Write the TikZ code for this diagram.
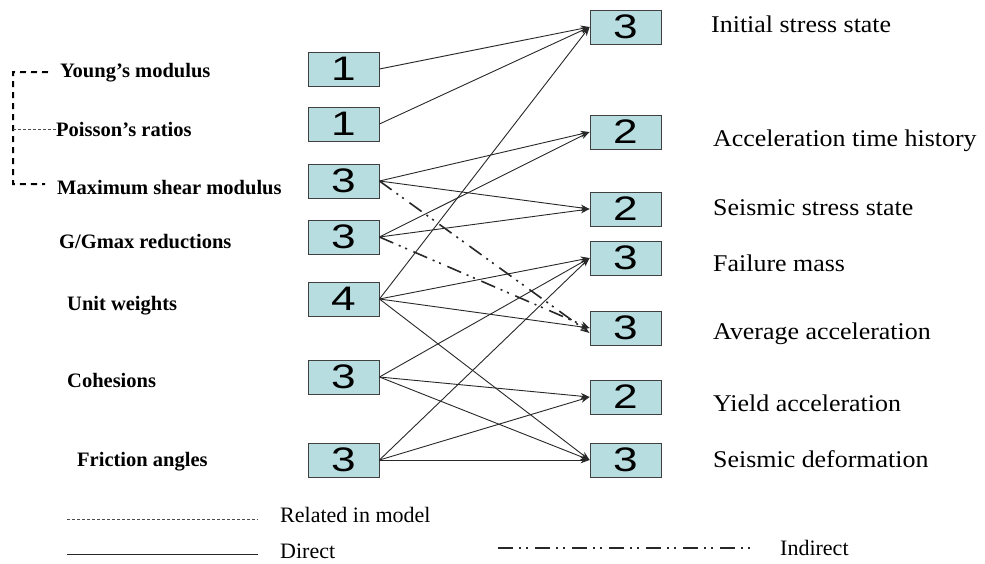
\documentclass[tikz,border=0pt]{standalone}
\usepackage{fontspec}
\usepackage{graphicx}
\setmainfont{Liberation Serif}
\setsansfont{Liberation Sans}
\usetikzlibrary{arrows.meta}
\definecolor{boxc}{RGB}{183,221,224}
\definecolor{linec}{RGB}{40,40,40}
\tikzset{
  numbox/.style={draw=black!75, line width=0.9pt, fill=boxc, minimum width=71pt, minimum height=34pt, inner sep=0pt,
    font=\sffamily\fontsize{34}{34}\selectfont},
  leftlab/.style={anchor=base west, inner sep=0pt, font=\bfseries\fontsize{20.5}{22}\selectfont},
  rightlab/.style={anchor=base west, inner sep=0pt, font=\fontsize{24}{26}\selectfont},
  leglab/.style={anchor=base west, inner sep=0pt, font=\fontsize{22}{24}\selectfont},
  direct/.style={draw=linec, line width=0.9pt, -{Stealth[length=9pt,width=6.5pt]}},
  indirect/.style={draw=linec, line width=1.6pt, dash pattern=on 15pt off 6pt on 2pt off 5pt on 2pt off 7pt, -{Stealth[length=9pt,width=6.5pt]}},
  brk/.style={draw=black, line width=2pt, dash pattern=on 6pt off 5pt},
  relline/.style={draw=black!70, line width=0.7pt, dash pattern=on 3pt off 2pt},
}
\newcommand{\dg}[1]{\scalebox{1.3}[1]{#1}}
\newcommand{\rl}[1]{\scalebox{1.08}[1]{#1}}
\begin{document}
\begin{tikzpicture}[x=1pt,y=-1pt]
\useasboundingbox[fill=white] (0,0) rectangle (985,563);

% left boxes
\node[numbox] (L1) at (343.5,69) {\dg{1}};
\node[numbox] (L2) at (343.5,124) {\dg{1}};
\node[numbox] (L3) at (343.5,181) {\dg{3}};
\node[numbox] (L4) at (343.5,237) {\dg{3}};
\node[numbox] (L5) at (343.5,299) {\dg{4}};
\node[numbox] (L6) at (343.5,377) {\dg{3}};
\node[numbox] (L7) at (343.5,460) {\dg{3}};

% right boxes
\node[numbox] (R1) at (625.5,27) {\dg{3}};
\node[numbox] (R2) at (625.5,132) {\dg{2}};
\node[numbox] (R3) at (625.5,209) {\dg{2}};
\node[numbox] (R4) at (625.5,258) {\dg{3}};
\node[numbox] (R5) at (625.5,328) {\dg{3}};
\node[numbox] (R6) at (625.5,397) {\dg{2}};
\node[numbox] (R7) at (625.5,460) {\dg{3}};

% left labels
\node[leftlab] (young) at (60,77) {Young’s modulus};
\node[leftlab] (poisson) at (56,136) {Poisson’s ratios};
\node[leftlab] (maxshear) at (57,194) {Maximum shear modulus};
\node[leftlab] (ggmax) at (59,248) {G/Gmax reductions};
\node[leftlab] (unitw) at (67,310) {Unit weights};
\node[leftlab] (coh) at (67,387) {Cohesions};
\node[leftlab] (fric) at (77,466) {Friction angles};

% right labels
\node[rightlab] (t1) at (711,32) {\rl{Initial stress state}};
\node[rightlab] (t2) at (713,146) {\rl{Acceleration time history}};
\node[rightlab] (t3) at (713,215) {\rl{Seismic stress state}};
\node[rightlab] (t4) at (713,271) {\rl{Failure mass}};
\node[rightlab] (t5) at (713,339) {\rl{Average acceleration}};
\node[rightlab] (t6) at (713,411) {\rl{Yield acceleration}};
\node[rightlab] (t7) at (713,467) {\rl{Seismic deformation}};

% bracket (related in model)
\coordinate (bkT) at (13,72);
\coordinate (bkB) at (13,184);
\coordinate (bkM) at (13,129);
\draw[brk] ([xshift=-12pt]young.west) -- (bkT) -- (bkB) -- ([xshift=-12pt]maxshear.west |- bkB);
\draw[relline] (bkM) -- (poisson.west |- bkM);

% direct connectors
\draw[direct] (L1.east) -- (R1.west);
\draw[direct] (L2.east) -- (R1.west);
\draw[direct] (L3.east) -- (R2.west);
\draw[direct] (L3.east) -- (R3.west);
\draw[direct] (L4.east) -- (R2.west);
\draw[direct] (L4.east) -- (R3.west);
\draw[direct] (L5.east) -- (R1.west);
\draw[direct] (L5.east) -- (R4.west);
\draw[direct] (L5.east) -- (R5.west);
\draw[direct] (L5.east) -- (R7.west);
\draw[direct] (L6.east) -- (R4.west);
\draw[direct] (L6.east) -- (R6.west);
\draw[direct] (L6.east) -- (R7.west);
\draw[direct] (L7.east) -- (R4.west);
\draw[direct] (L7.east) -- (R6.west);
\draw[direct] (L7.east) -- (R7.west);

% indirect connectors
\draw[indirect] (L3.east) -- ([yshift=-5pt]R5.west);
\draw[indirect] (L4.east) -- (R5.west);

% legend
\coordinate (lg1a) at (67,519);
\coordinate (lg1b) at (258,519);
\coordinate (lg2a) at (67,554);
\coordinate (lg2b) at (258,554);
\coordinate (lg3a) at (498,548);
\coordinate (lg3b) at (750,548);
\draw[relline] (lg1a) -- (lg1b);
\draw[draw=linec, line width=0.9pt] (lg2a) -- (lg2b);
\draw[draw=linec, line width=1.6pt, dash pattern=on 15pt off 6pt on 2pt off 5pt on 2pt off 7pt] (lg3a) -- (lg3b);
\node[leglab] (lt1) at (280,522) {Related in model};
\node[leglab] (lt2) at (280,558) {Direct};
\node[leglab] (lt3) at (780,555) {Indirect};
\end{tikzpicture}
\end{document}
